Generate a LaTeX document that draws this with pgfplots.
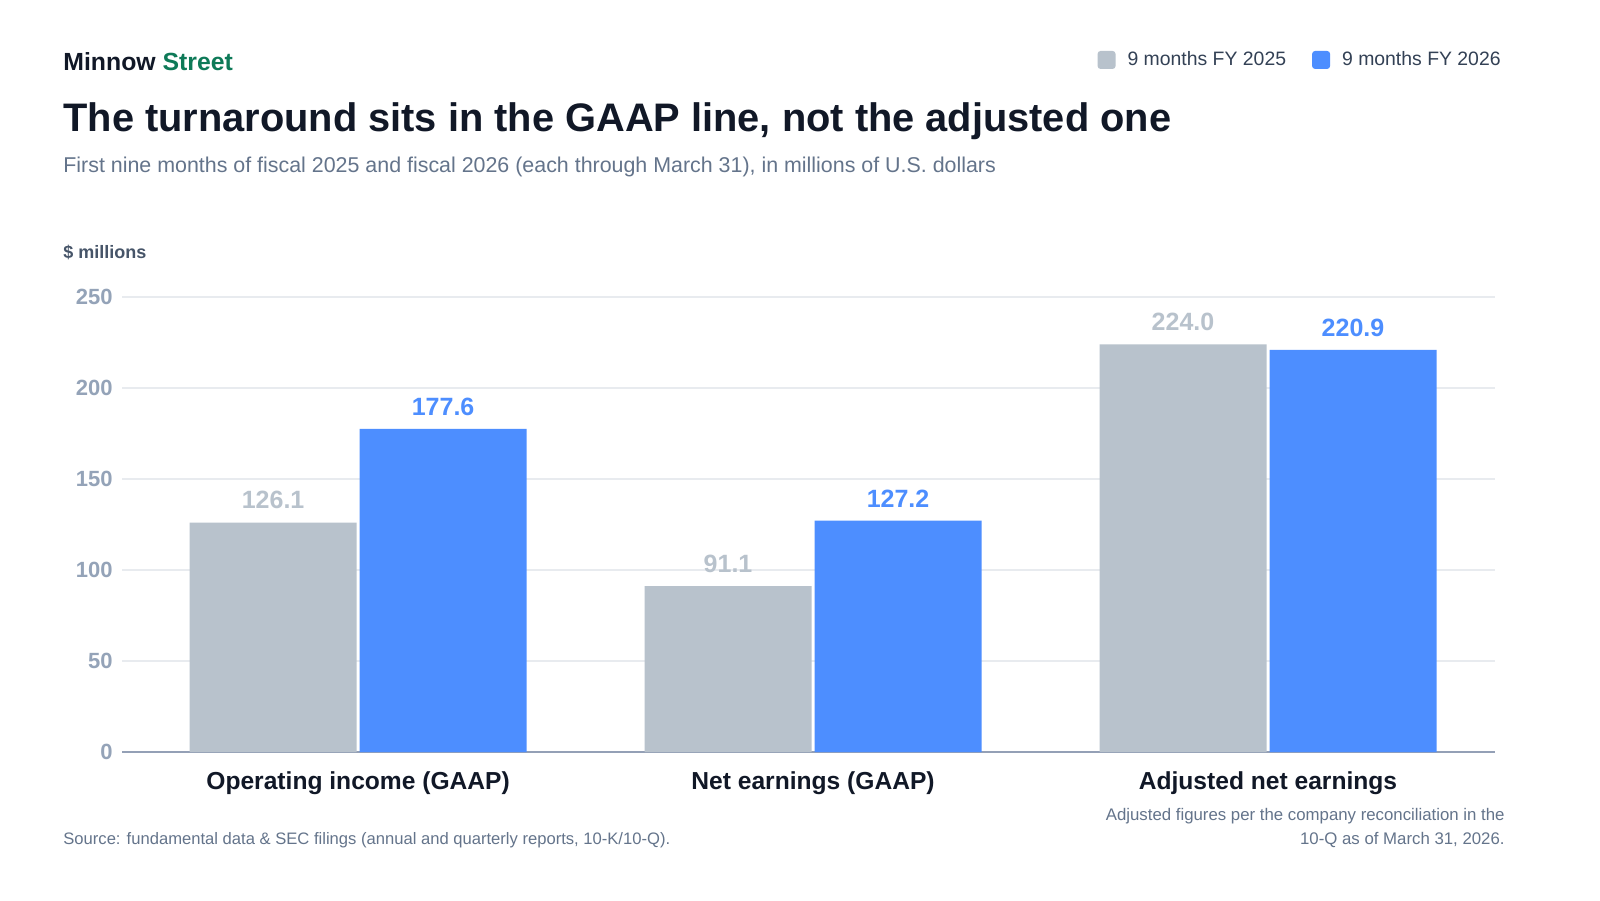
\documentclass[border=0pt]{standalone}
\usepackage{pgfplots}
\pgfplotsset{compat=1.18}
\usepackage{fontspec}
\setmainfont{Liberation Sans}
\definecolor{cgray}{RGB}{184,194,204}
\definecolor{cblue}{RGB}{77,142,255}
\definecolor{ctitle}{RGB}{17,24,39}
\definecolor{cgreen}{RGB}{14,122,88}
\definecolor{csub}{RGB}{100,116,139}
\definecolor{ctick}{RGB}{148,163,184}
\definecolor{caxis}{RGB}{148,160,182}
\definecolor{cgrid}{RGB}{232,235,239}
\definecolor{cleg}{RGB}{51,65,85}
\definecolor{cunit}{RGB}{71,85,105}
\begin{document}
\begin{tikzpicture}
\fill[white] (0,0) rectangle (800pt,-450pt);
\node[anchor=base west,inner sep=0,font=\fontsize{12.4pt}{14pt}\selectfont\bfseries] at (31.5pt,-35pt) {\textcolor{ctitle}{Minnow} \textcolor{cgreen}{Street}};
\node[anchor=base west,inner sep=0,font=\fontsize{19.9pt}{24pt}\selectfont\bfseries,text=ctitle] at (31.5pt,-65.5pt) {The turnaround sits in the GAAP line, not the adjusted one};
\node[anchor=base west,inner sep=0,font=\fontsize{10.7pt}{13pt}\selectfont,text=csub] at (31.5pt,-86pt) {First nine months of fiscal 2025 and fiscal 2026 (each through March 31), in millions of U.S. dollars};
\node[anchor=base west,inner sep=0,font=\fontsize{9pt}{11pt}\selectfont\bfseries,text=cunit] at (31.5pt,-129pt) {\$ millions};
\node[anchor=base west,inner sep=0,font=\fontsize{8.3pt}{12pt}\selectfont,text=csub] at (31.5pt,-422pt) {Source: fundamental data \& SEC filings (annual and quarterly reports, 10-K/10-Q).};
\node[anchor=base east,inner sep=0,font=\fontsize{8.4pt}{12pt}\selectfont,text=csub,align=right] at (752.5pt,-422pt) {Adjusted figures per the company reconciliation in the\\10-Q as of March 31, 2026.};
\begin{axis}[
  at={(61pt,-376pt)}, anchor=south west,
  scale only axis, width=686.5pt, height=227.5pt,
  xmin=-0.519, xmax=2.499, ymin=0, ymax=250,
  ybar=1.5pt, bar width=83.5pt,
  xtick={0,1,2},
  xticklabels={Operating income (GAAP),Net earnings (GAAP),Adjusted net earnings},
  ytick={0,50,100,150,200,250},
  separate axis lines,
  axis x line*=bottom, axis y line*=left,
  y axis line style={draw=none},
  x axis line style={draw=caxis,line width=0.75pt},
  major tick length=0pt,
  ymajorgrids, grid style={draw=cgrid,line width=0.6pt},
  /pgf/number format/assume math mode=true,
  yticklabel style={font=\fontsize{11pt}{13pt}\selectfont\bfseries,text=ctick,anchor=east,inner sep=0pt,xshift=-4.5pt},
  xticklabel style={font=\fontsize{12.3pt}{14pt}\selectfont\bfseries,text=ctitle,anchor=north,inner sep=0pt,yshift=-9.5pt},
  clip=false,
  nodes near coords={\pgfmathprintnumber[fixed,fixed zerofill,precision=1]{\pgfplotspointmeta}},
  legend columns=2,
  legend style={at={(1.0073,1.521)},anchor=east,draw=none,fill=none,inner sep=0pt,
    font=\fontsize{9.7pt}{11pt}\selectfont,text=cleg,
    /tikz/every even column/.append style={column sep=11pt}},
  legend image code/.code={\fill[#1,rounded corners=1.5pt] (0pt,-4.5pt) rectangle (9pt,4.5pt);\path (13pt,0pt);},
]
\addplot[fill=cgray,draw=none,
  every node near coord/.append style={text=cgray,font=\fontsize{12.5pt}{14pt}\selectfont\bfseries,inner sep=0pt,anchor=south,yshift=6.5pt}]
  coordinates {(0,126.1) (1,91.1) (2,224.0)};
\addplot[fill=cblue,draw=none,
  every node near coord/.append style={text=cblue,font=\fontsize{12.5pt}{14pt}\selectfont\bfseries,inner sep=0pt,anchor=south,yshift=6.5pt}]
  coordinates {(0,177.6) (1,127.2) (2,220.9)};
\legend{9 months FY 2025,9 months FY 2026}
\end{axis}
\pgfresetboundingbox
\path[use as bounding box] (0,0) rectangle (800pt,-450pt);
\end{tikzpicture}
\end{document}
